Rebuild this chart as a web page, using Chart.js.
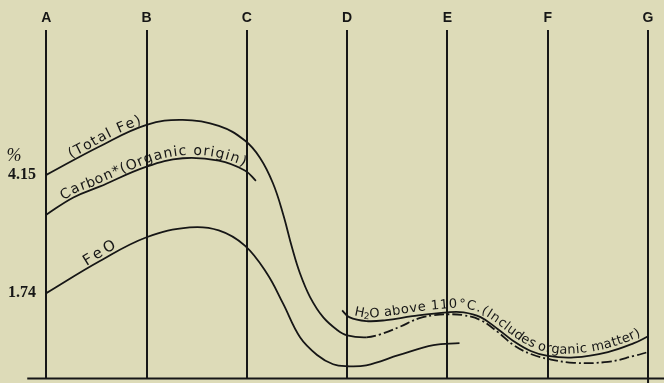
<!DOCTYPE html>
<html>
<head>
<meta charset="utf-8">
<script src="https://cdn.jsdelivr.net/npm/chart.js@4"></script>
<style>
  html, body { margin: 0; padding: 0; background: rgb(221,219,184); }
  canvas { display: block; }
</style>
</head>
<body>
<canvas id="c" width="664" height="383"></canvas>
<script>
// Stations (vertical lines) and y tick labels
const stations = ['A', 'B', 'C', 'D', 'E', 'F', 'G'];
const yTickValues = [1.74, 4.15];

// Total Fe (solid to ~D, dash-dot afterwards)
const totalFeX = [0, 0.53, 1, 1.36, 1.72, 1.98, 2.13, 2.26, 2.36, 2.45, 2.53, 2.63, 2.76, 2.9, 3, 3.19, 3.33, 3.52, 3.72, 3.87, 4, 4.16, 4.33, 4.5, 4.66, 4.83, 5, 5.26, 5.6, 5.86, 6];
const totalFeY = [4.15, 4.73, 5.17, 5.27, 5.15, 4.85, 4.50, 3.98, 3.36, 2.67, 2.14, 1.66, 1.25, 0.99, 0.88, 0.84, 0.90, 1.05, 1.23, 1.29, 1.31, 1.29, 1.19, 0.95, 0.68, 0.50, 0.40, 0.32, 0.34, 0.46, 0.54];
const totalFeDashFrom = 15;

// Carbon (organic origin)
const carbonX = [0, 0.27, 0.53, 1, 1.36, 1.72, 1.98, 2.09];
const carbonY = [3.34, 3.69, 3.91, 4.32, 4.49, 4.44, 4.24, 4.03];

// FeO
const feoX = [0, 0.53, 1, 1.43, 1.72, 1.98, 2.2, 2.36, 2.53, 2.7, 2.86, 3, 3.19, 3.52, 3.86, 4.12];
const feoY = [1.74, 2.39, 2.88, 3.08, 3.02, 2.71, 2.14, 1.53, 0.84, 0.48, 0.29, 0.25, 0.27, 0.48, 0.68, 0.72];

// H2O above 110°C
const h2oX = [2.95, 3.02, 3.19, 3.39, 3.65, 4, 4.16, 4.33, 4.5, 4.66, 4.83, 5, 5.26, 5.6, 5.86, 6];
const h2oY = [1.39, 1.25, 1.17, 1.19, 1.27, 1.35, 1.35, 1.25, 1.01, 0.76, 0.56, 0.46, 0.43, 0.54, 0.72, 0.86];

const INK = '#161616';
const BG = 'rgb(221,219,184)';

const pts = (xs, ys) => xs.map((x, i) => ({ x, y: ys[i] }));

function drawOnCurve(chart, dsIdx, pieces, xs, xe, off) {
  const ctx = chart.ctx;
  const line = chart.getDatasetMeta(dsIdx).dataset;
  const sx = chart.scales.x;
  const x0 = sx.getPixelForValue(xs), x1 = sx.getPixelForValue(xe);
  const P = [];
  for (let px = x0; px <= x1 + 0.01; px += 0.5) {
    const p = line.interpolate({ x: px }, 'x');
    if (p) P.push({ x: px, y: p.y });
  }
  if (P.length < 2) return;
  const cum = [0];
  for (let i = 1; i < P.length; i++) cum.push(cum[i - 1] + Math.hypot(P[i].x - P[i - 1].x, P[i].y - P[i - 1].y));
  const L = cum[cum.length - 1];
  const chars = [];
  pieces.forEach(([str, font, dy]) => {
    ctx.font = font;
    for (const ch of str) chars.push({ ch, font, dy: dy || 0, w: ctx.measureText(ch).width });
  });
  const W = chars.reduce((a, c) => a + c.w, 0);
  const gap = chars.length > 1 ? (L - W) / (chars.length - 1) : 0;
  let s = 0;
  ctx.save();
  ctx.fillStyle = INK;
  chars.forEach(c => {
    const mid = Math.min(L, s + c.w / 2);
    let k = 0;
    while (k < cum.length - 2 && cum[k + 1] < mid) k++;
    const a = P[k], b = P[k + 1];
    const t = (mid - cum[k]) / Math.max(1e-6, cum[k + 1] - cum[k]);
    const x = a.x + (b.x - a.x) * t, y = a.y + (b.y - a.y) * t;
    const ka = Math.max(0, k - 6), kb = Math.min(P.length - 1, k + 7);
    const ang = Math.atan2(P[kb].y - P[ka].y, P[kb].x - P[ka].x);
    ctx.save();
    ctx.translate(x, y);
    ctx.rotate(ang);
    ctx.font = c.font;
    ctx.textAlign = 'center';
    ctx.textBaseline = 'alphabetic';
    ctx.fillText(c.ch, 0, -off + c.dy);
    ctx.restore();
    s += c.w + gap;
  });
  ctx.restore();
}

const bgPlugin = {
  id: 'bg',
  beforeDraw(chart) {
    const ctx = chart.ctx;
    ctx.save();
    ctx.fillStyle = BG;
    ctx.fillRect(0, 0, chart.width, chart.height);
    ctx.restore();
  }
};

const labelPlugin = {
  id: 'labels',
  afterDatasetsDraw(chart) {
    const f14 = "14px 'DejaVu Sans'";
    const f13 = "13px 'DejaVu Sans'";
    drawOnCurve(chart, 2, [['(Total Fe)', f14]], 0.256, 0.964, 3);
    drawOnCurve(chart, 3, [['Carbon*(Organic origin)', f14]], 0.186, 1.96, 3);
    drawOnCurve(chart, 4, [['FeO', "15px 'DejaVu Sans'"]], 0.416, 0.716, 3);
    drawOnCurve(chart, 5, [['H', f13], ['2', "9px 'DejaVu Sans'", 2], ['O above 110°C.(Includes organic matter)', f13]], 3.06, 5.95, 4);
    // percent sign above the 4.15 label
    const ctx = chart.ctx;
    const y = chart.scales.y.getPixelForValue(yTickValues[1]);
    ctx.save();
    ctx.fillStyle = INK;
    ctx.font = "italic 18px 'Liberation Serif'";
    ctx.textAlign = 'center';
    ctx.textBaseline = 'middle';
    ctx.fillText('%', 14, y - 19);
    ctx.restore();
  }
};

new Chart(document.getElementById('c'), {
  type: 'line',
  data: {
    datasets: [
      { data: [{ x: -0.19, y: 0 }, { x: 6.16, y: 0 }], borderColor: INK, borderWidth: 2, pointRadius: 0, clip: false },
      { data: [{ x: 6, y: 0 }, { x: 6, y: -0.1 }], borderColor: INK, borderWidth: 2, pointRadius: 0, clip: false },
      {
        label: 'Total Fe', data: pts(totalFeX, totalFeY), borderColor: INK, borderWidth: 1.8, pointRadius: 0,
        tension: 0.4,
        segment: { borderDash: c => (c.p0DataIndex >= totalFeDashFrom ? [10, 3, 2, 3] : undefined) }
      },
      { label: 'Carbon', data: pts(carbonX, carbonY), borderColor: INK, borderWidth: 1.8, pointRadius: 0, tension: 0.4 },
      { label: 'FeO', data: pts(feoX, feoY), borderColor: INK, borderWidth: 1.8, pointRadius: 0, tension: 0.4 },
      { label: 'H2O', data: pts(h2oX, h2oY), borderColor: INK, borderWidth: 1.8, pointRadius: 0, tension: 0.4 }
    ]
  },
  options: {
    responsive: false,
    animation: false,
    devicePixelRatio: 1,
    layout: { padding: { top: 7, bottom: 4.5, left: 0, right: 0 } },
    plugins: { legend: { display: false }, tooltip: { enabled: false } },
    scales: {
      x: {
        type: 'linear',
        position: 'top',
        min: -0.0628,
        max: 6.159,
        afterBuildTicks: s => { s.ticks = stations.map((_, i) => ({ value: i })); },
        afterFit: s => { s.paddingLeft = 0; s.paddingRight = 0; },
        ticks: {
          autoSkip: false, maxRotation: 0, padding: 3.2, color: INK,
          font: { family: "'Liberation Sans'", size: 14, weight: 'bold' },
          callback: v => stations[v] ?? ''
        },
        grid: { color: INK, lineWidth: 2, drawTicks: false },
        border: { display: false }
      },
      y: {
        type: 'linear',
        position: 'left',
        min: 0,
        max: 7.1,
        afterBuildTicks: s => { s.ticks = yTickValues.map(v => ({ value: v })); },
        afterFit: s => { s.width = 40; s.paddingTop = 0; s.paddingBottom = 0; },
        ticks: {
          padding: 4, color: INK,
          font: { family: "'Liberation Serif'", size: 16, weight: 'bold' },
          callback: v => Number(v).toFixed(2)
        },
        grid: { display: false, drawTicks: false },
        border: { display: false }
      }
    }
  },
  plugins: [bgPlugin, labelPlugin]
});
</script>
</body>
</html>
